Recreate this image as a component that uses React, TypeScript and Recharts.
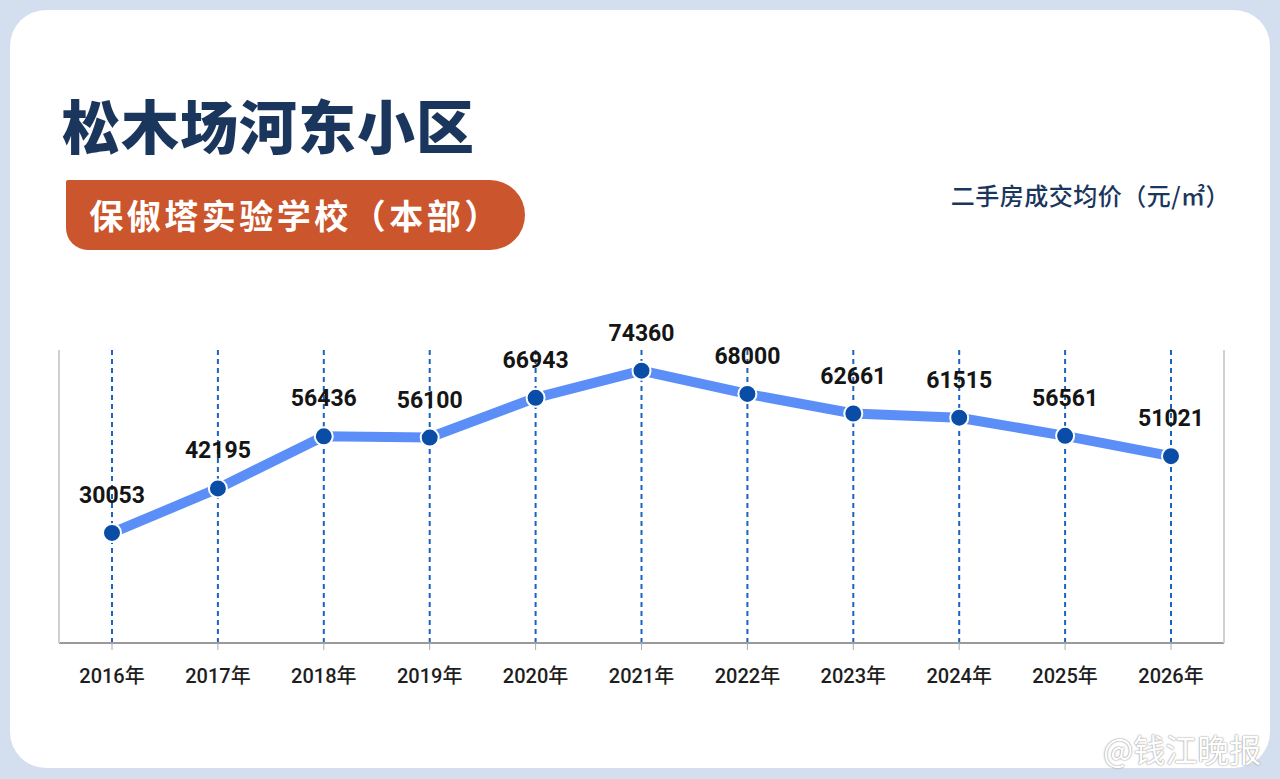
import React from 'react'
import { LineChart, Line, XAxis, YAxis, ReferenceLine, LabelList } from 'recharts'

const years = ['2016年', '2017年', '2018年', '2019年', '2020年', '2021年', '2022年', '2023年', '2024年', '2025年', '2026年']
const prices = [30053, 42195, 56436, 56100, 66943, 74360, 68000, 62661, 61515, 56561, 51021]

const data = years.map((year, i) => ({ year, price: prices[i] }))

const NAVY = '#1b365d'
const CJK = '"Noto Sans CJK SC", "Noto Sans", sans-serif'
const NUM = 'Roboto, "Noto Sans CJK SC", sans-serif'

export default function App() {
  return (
    <div style={{ position: 'fixed', left: 0, top: 0, width: 1280, height: 779, background: '#d3dfee', overflow: 'hidden' }}>
      <div style={{ position: 'absolute', left: 10, top: 10, right: 10, bottom: 11, background: '#fff', borderRadius: 36 }} />

      <div style={{ position: 'absolute', left: 62, top: 84, fontFamily: CJK, fontWeight: 900, fontSize: 58, color: NAVY, lineHeight: '80px', letterSpacing: 1 }}>
        松木场河东小区
      </div>

      <div
        style={{
          position: 'absolute', left: 66, top: 180, width: 459, height: 70, background: '#cb552c',
          borderRadius: '2px 35px 35px 22px', color: '#fff', fontFamily: CJK, fontWeight: 700, fontSize: 34,
          lineHeight: '70px', textAlign: 'center', letterSpacing: 3.5,
        }}
      >
        保俶塔实验学校（本部）
      </div>

      <div style={{ position: 'absolute', right: 50, top: 180, fontFamily: CJK, fontWeight: 500, fontSize: 24, color: NAVY, lineHeight: '30px', letterSpacing: 0.5 }}>
        二手房成交均价（元/㎡）
      </div>

      <div style={{ position: 'absolute', left: 0, top: 0 }}>
        <LineChart width={1280} height={779} data={data} margin={{ top: 350, right: 55, left: 58, bottom: 76 }}>
          <XAxis
            dataKey="year"
            height={60}
            padding={{ left: 53, right: 53 }}
            axisLine={{ stroke: '#9a9a9a', strokeWidth: 2 }}
            tickLine={{ stroke: '#aaa' }}
            tickSize={7}
            tick={{ fill: '#1e1e1e', fontSize: 20, fontWeight: 500, fontFamily: NUM }}
            dy={17}
            interval={0}
          />
          <YAxis yAxisId="left" domain={[0, 80000]} width={1} tick={false} tickLine={false} axisLine={{ stroke: '#d0d0d0', strokeWidth: 2 }} />
          <YAxis yAxisId="right" orientation="right" domain={[0, 80000]} width={1} tick={false} tickLine={false} axisLine={{ stroke: '#d0d0d0', strokeWidth: 2 }} />
          {years.map((y) => (
            <ReferenceLine key={y} yAxisId="left" x={y} stroke="#1a63c0" strokeWidth={2} strokeDasharray="5 4" />
          ))}
          <Line
            yAxisId="left"
            type="linear"
            dataKey="price"
            stroke="#5b8ff7"
            strokeWidth={10}
            dot={{ r: 9, fill: '#0a4da6', stroke: '#fff', strokeWidth: 2 }}
            activeDot={false}
            isAnimationActive={false}
          >
            <LabelList dataKey="price" position="top" offset={30} fill="#151515" fontSize={23} fontWeight={700} fontFamily={NUM} />
          </Line>
        </LineChart>
      </div>

      <div style={{ position: 'absolute', left: 1103, top: 728, whiteSpace: 'nowrap', fontFamily: CJK, fontSize: 32, lineHeight: '40px', color: '#fff', textShadow: '0 0 2px #999, 0 0 1px #999' }}>
        @钱江晚报
      </div>
    </div>
  )
}
